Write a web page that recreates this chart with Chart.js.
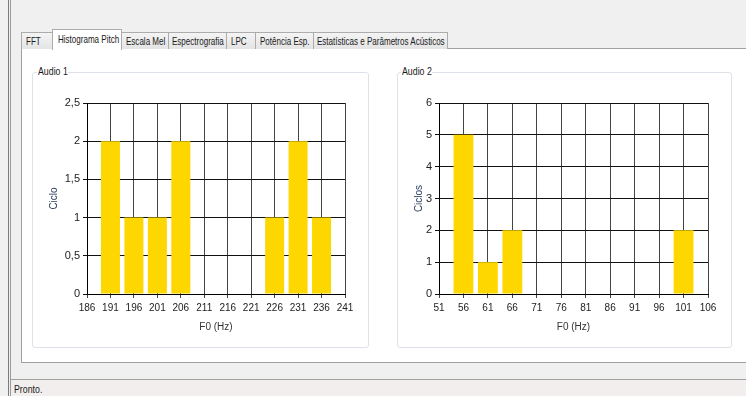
<!DOCTYPE html>
<html>
<head>
<meta charset="utf-8">
<script src="https://cdn.jsdelivr.net/npm/chart.js@4"></script>
<style>
  body { margin: 0; width: 746px; height: 396px; overflow: hidden; background: #f0f0f0; position: relative;
         font-family: "Liberation Sans", Arial, sans-serif; font-size: 11px; color: #1a1a1a; }
  .abs { position: absolute; }
  .nar { display: inline-block; transform: scaleX(0.73); transform-origin: 0 50%; white-space: nowrap; }
  .edge { left: 8px; top: 0; width: 1px; height: 396px; border-left: 1px solid #7a7a7a; border-right: 1px solid #9a9a9a; }
  .tab { position: absolute; top: 32px; height: 17px; line-height: 16px; border: 1px solid #acacac; border-bottom: none;
         background: linear-gradient(#f4f4f4, #e4e4e4); box-sizing: border-box; padding-left: 4px; white-space: nowrap; overflow: hidden; }
  .tab.sel { top: 29px; height: 21px; line-height: 18px; background: #fff; z-index: 2; padding-left: 5px; }
  .panel { left: 21px; top: 48px; width: 740px; height: 315px; background: #fff; border: 1px solid #a0a0a0; box-sizing: border-box; }
  .group { top: 72px; height: 276px; border: 1px solid #dde2e8; border-radius: 3px; box-sizing: border-box; }
  .legend { top: 65px; height: 13px; background: #fff; line-height: 13px; width: 31px; }
  .legend .nar { transform: scaleX(0.8); margin-left: 1px; }
  .status { left: 11px; top: 379px; width: 735px; height: 17px; border-top: 1px solid #a0a0a0; background: #f2eeee; }
  canvas { position: absolute; }
</style>
</head>
<body>
<div class="abs edge"></div>
<div class="abs panel"></div>
<div class="tab" style="left:21px;width:32px;"><span class="nar">FFT</span></div>
<div class="tab sel" style="left:52px;width:70px;"><span class="nar">Histograma Pitch</span></div>
<div class="tab" style="left:121px;width:48px;"><span class="nar">Escala Mel</span></div>
<div class="tab" style="left:168px;width:59px;padding-left:3px;"><span class="nar">Espectrografia</span></div>
<div class="tab" style="left:226px;width:30px;"><span class="nar">LPC</span></div>
<div class="tab" style="left:255px;width:59px;"><span class="nar">Potência Esp.</span></div>
<div class="tab" style="left:313px;width:135px;padding-left:3px;"><span class="nar">Estatísticas e Parâmetros Acústicos</span></div>

<div class="abs group" style="left:32px;width:337px;"></div>
<div class="abs legend" style="left:37px;"><span class="nar">Audio 1</span></div>
<div class="abs group" style="left:397px;width:335px;"></div>
<div class="abs legend" style="left:401px;"><span class="nar">Audio 2</span></div>

<canvas id="c1" style="left:34px;top:88px;" width="331" height="256"></canvas>
<canvas id="c2" style="left:397px;top:88px;" width="333" height="256"></canvas>

<div class="abs status"><span class="nar" style="position:absolute;left:3px;top:3px;transform:scaleX(0.8);">Pronto.</span></div>

<script>
// Audio 1 histogram
const f0Ticks1 = [186, 191, 196, 201, 206, 211, 216, 221, 226, 231, 236, 241];
const f0Bins1 = [191, 196, 201, 206, 211, 216, 221, 226, 231, 236];
const ciclos1 = [2, 1, 1, 2, 0, 0, 0, 1, 2, 1];
const yTicks1 = [0, 0.5, 1, 1.5, 2, 2.5];

// Audio 2 histogram
const f0Ticks2 = [51, 56, 61, 66, 71, 76, 81, 86, 91, 96, 101, 106];
const f0Bins2 = [56, 61, 66, 71, 76, 81, 86, 91, 96, 101];
const ciclos2 = [5, 1, 2, 0, 0, 0, 0, 0, 0, 2];
const yTicks2 = [0, 1, 2, 3, 4, 5, 6];

const FONT = "'Liberation Sans', Arial, sans-serif";

function make_histogram(id, bins, counts, xticks, yticks, ytitle, yAxisWidth, titlePad, pad) {
    const data = bins.map((x, i) => ({x: x, y: counts[i]}));
    return new Chart(document.getElementById(id), {
        type: 'bar',
        data: {
            datasets: [{
                data: data,
                backgroundColor: '#ffd700',
                borderWidth: 0,
                categoryPercentage: 1,
                barPercentage: 0.81
            }]
        },
        options: {
            responsive: false,
            animation: false,
            layout: {padding: pad},
            plugins: {legend: {display: false}, tooltip: {enabled: false}},
            scales: {
                x: {
                    type: 'linear',
                    offset: false,
                    min: xticks[0],
                    max: xticks[xticks.length - 1],
                    afterBuildTicks: s => { s.ticks = xticks.map(v => ({value: v})); },
                    afterFit: s => { s.height = 50; },
                    grid: {offset: false, color: '#444', tickLength: 4},
                    border: {color: '#000'},
                    ticks: {font: {family: FONT, size: 10}, color: '#222', padding: 4, maxRotation: 0, autoSkip: false},
                    title: {display: true, text: 'F0 (Hz)', font: {family: FONT, size: 10}, color: '#333', padding: {top: 0, bottom: 11}}
                },
                y: {
                    min: yticks[0],
                    max: yticks[yticks.length - 1],
                    afterBuildTicks: s => { s.ticks = yticks.map(v => ({value: v})); },
                    afterFit: s => { s.width = yAxisWidth; },
                    grid: {color: '#111', tickLength: 4},
                    border: {color: '#000'},
                    ticks: {font: {family: FONT, size: 11}, color: '#222', padding: 3,
                            callback: v => String(v).replace('.', ',')},
                    title: {display: true, text: ytitle, font: {family: FONT, size: 10}, color: '#2b3f5c', padding: {top: titlePad, bottom: 0}}
                }
            }
        }
    });
}

make_histogram('c1', f0Bins1, ciclos1, f0Ticks1, yTicks1, 'Ciclo', 53, 14, {top: 15, right: 20, left: 0, bottom: 0});
make_histogram('c2', f0Bins2, ciclos2, f0Ticks2, yTicks2, 'Ciclos', 42, 16, {top: 15, right: 22, left: 0, bottom: 0});
</script>
</body>
</html>
